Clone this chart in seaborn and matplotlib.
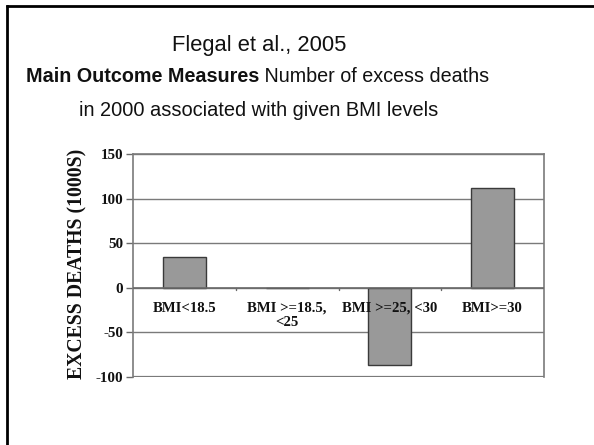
import matplotlib
matplotlib.use("Agg")
import matplotlib.pyplot as plt
from matplotlib.lines import Line2D
import seaborn as sns
import pandas as pd

# Excess deaths (thousands) in 2000 by BMI category
categories = ["BMI<18.5", "BMI >=18.5,\n<25", "BMI >=25, <30", "BMI>=30"]
excess_deaths = [34, 0, -86, 112]
y_ticks = [-100, -50, 0, 50, 100, 150]

title_line1 = "Flegal et al., 2005"
title_bold = "Main Outcome Measures"
title_rest = " Number of excess deaths"
title_line3 = "in 2000 associated with given BMI levels"

sns.set_theme(style="white")
plt.rcParams["font.family"] = ["Liberation Sans", "DejaVu Sans"]
SERIF = ["Liberation Serif", "DejaVu Serif"]

df = pd.DataFrame({"category": categories, "deaths": excess_deaths})

fig = plt.figure(figsize=(5.94, 4.45), dpi=100)
ax = fig.add_axes([133 / 594, 1 - 377 / 445, 411 / 594, 223 / 445])

sns.barplot(data=df, x="category", y="deaths", ax=ax, color="#999999",
            width=0.42, edgecolor="#3a3a3a", linewidth=1.0, saturation=1,
            zorder=3)

ax.set_ylim(y_ticks[0], y_ticks[-1])
ax.set_xlim(-0.5, len(categories) - 0.5)
ax.set_yticks(y_ticks)
ax.set_yticklabels([str(v) for v in y_ticks])

# horizontal gridlines
for v in y_ticks:
    ax.axhline(v, color="#7a7a7a", linewidth=1.0, zorder=1)

# frame
for side in ["left", "right", "top"]:
    ax.spines[side].set_visible(True)
    ax.spines[side].set_color("#7a7a7a")
    ax.spines[side].set_linewidth(1.2)
ax.spines["bottom"].set_visible(False)
ax.axhline(y_ticks[0], color="#7a7a7a", linewidth=1.6, zorder=4)

# category axis crossing at zero
ax.axhline(0, color="#6a6a6a", linewidth=1.2, zorder=4)
ax.set_xticks([])
for i, lab in enumerate(categories):
    ax.annotate(lab, xy=(i, 0), xytext=(0, -10), textcoords="offset points",
                ha="center", va="top", fontsize=10.6, fontweight="bold",
                family=SERIF, color="#111111", linespacing=1.12, zorder=6)
for b in range(1, len(categories)):
    ax.plot([b - 0.5, b - 0.5], [0, -3], color="#6a6a6a", linewidth=1.0,
            zorder=4)

ax.tick_params(axis="y", which="both", left=True, length=5, width=1.0,
               color="#6a6a6a", pad=2, labelsize=10.8)
for t in ax.get_yticklabels():
    t.set_fontfamily(SERIF)
    t.set_fontweight("bold")
    t.set_color("#111111")

ax.set_xlabel("")
ax.set_ylabel("")
fig.text(77 / 594, 1 - 264 / 445, "EXCESS DEATHS (1000S)", rotation=90,
         ha="center", va="center", fontsize=14.2, fontweight="bold",
         family=SERIF, color="#111111")

# slide titles
cx = 259 / 594
fig.text(cx, 1 - 45 / 445, title_line1, ha="center", va="center",
         fontsize=15.8, color="#111111")
fig.text(cx, 1 - 110 / 445, title_line3, ha="center", va="center",
         fontsize=14.4, color="#111111")

renderer = fig.canvas.get_renderer()
tb = fig.text(0, 1 - 77 / 445, title_bold, ha="left", va="center",
              fontsize=14.2, fontweight="bold", color="#111111")
tr = fig.text(0, 1 - 77 / 445, title_rest, ha="left", va="center",
              fontsize=14.2, color="#111111")
wb = tb.get_window_extent(renderer).width
wr = tr.get_window_extent(renderer).width
x0 = 257.5 - (wb + wr) / 2
tb.set_x(x0 / 594)
tr.set_x((x0 + wb) / 594)

# slide border (top and left edges)
fig.add_artist(Line2D([7 / 594, 1.0], [1 - 5.5 / 445, 1 - 5.5 / 445],
                      transform=fig.transFigure, color="black", linewidth=2.0))
fig.add_artist(Line2D([7 / 594, 7 / 594], [0.0, 1 - 5.5 / 445],
                      transform=fig.transFigure, color="black", linewidth=2.0,
                      solid_capstyle="projecting"))

fig.savefig("out.png", dpi=100)
